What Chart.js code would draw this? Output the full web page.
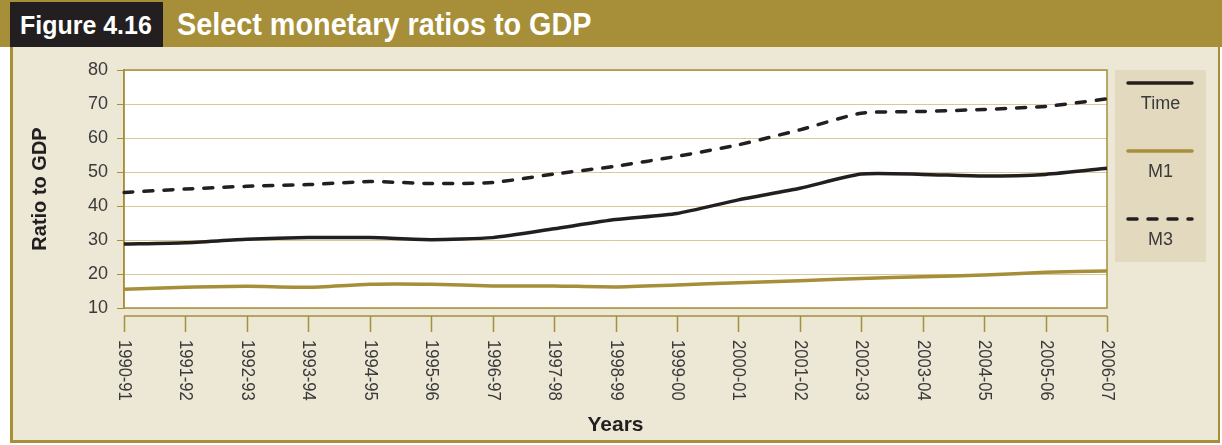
<!DOCTYPE html>
<html>
<head>
<meta charset="utf-8">
<script src="https://cdn.jsdelivr.net/npm/chart.js@4"></script>
<style>
  body { margin: 0; background: #fff; }
  #wrap { position: relative; width: 1222px; height: 445px; overflow: hidden; font-family: "Liberation Sans", Arial, sans-serif; }
  #band { position: absolute; left: 0; top: 0; width: 1222px; height: 47px; background: #a68f38; }
  #fig { position: absolute; left: 10px; top: 2px; width: 153px; height: 45px; background: #231f20; }
  #figText { position: absolute; left: 20px; top: 2px; height: 45px; line-height: 46px; color: #fff; font-weight: bold; font-size: 26px; transform: scaleX(0.96); transform-origin: left center; white-space: nowrap; }
  #title { position: absolute; left: 177px; top: 0; height: 47px; line-height: 49px; color: #fff; font-weight: bold; font-size: 32px; transform: scaleX(0.9); transform-origin: left center; white-space: nowrap; }
  #body { position: absolute; left: 10px; top: 47px; width: 1205px; height: 393px; background: #ede7d6; border-left: 3px solid #a68f38; border-right: 2px solid #a68f38; border-bottom: 3px solid #a68f38; }
  #chart { position: absolute; left: 0; top: 0; }
</style>
</head>
<body>
<div id="wrap">
  <div id="band"></div>
  <div id="fig"></div>
  <div id="figText">Figure 4.16</div>
  <div id="title">Select monetary ratios to GDP</div>
  <div id="body"></div>
  <canvas id="chart" width="1222" height="445"></canvas>
</div>
<script>
// DATA
const years = ["1990-91", "1991-92", "1992-93", "1993-94", "1994-95", "1995-96", "1996-97", "1997-98", "1998-99",
  "1999-00", "2000-01", "2001-02", "2002-03", "2003-04", "2004-05", "2005-06", "2006-07"];
const timeRatio = [28.8, 29.2, 30.2, 30.7, 30.7, 30.1, 30.7, 33.3, 36.0, 37.8, 41.8, 45.2, 49.4, 49.3, 48.8, 49.3, 51.1];
const m1Ratio = [15.5, 16.1, 16.4, 16.1, 17.0, 17.0, 16.5, 16.5, 16.2, 16.8, 17.4, 18.0, 18.7, 19.2, 19.7, 20.5, 20.9];
const m3Ratio = [44.0, 45.0, 45.8, 46.3, 47.2, 46.6, 46.9, 49.4, 51.7, 54.6, 58.0, 62.4, 67.3, 67.8, 68.4, 69.3, 71.5];
const yTicks = [10, 20, 30, 40, 50, 60, 70, 80];

const GOLD = "#a68f38";
const INK = "#231f20";
const TEXT = "#3a3a3a";
const FONT = "'Liberation Sans', Arial, sans-serif";

// white plot box with gold frame
const plotBox = {
  id: "plotBox",
  beforeDraw(chart) {
    const { ctx, chartArea: a } = chart;
    ctx.save();
    ctx.fillStyle = "#fff";
    ctx.fillRect(a.left, a.top, a.width, a.height);
    ctx.restore();
  },
  beforeDatasetsDraw(chart) {
    const { ctx, chartArea: a } = chart;
    ctx.save();
    ctx.strokeStyle = GOLD;
    ctx.lineWidth = 1.5;
    ctx.strokeRect(a.left, a.top, a.width, a.height);
    ctx.restore();
  }
};

// detached category axis with labels read top to bottom
const yearAxis = {
  id: "yearAxis",
  afterDraw(chart) {
    const { ctx } = chart;
    const xs = chart.scales.x;
    const y0 = chart.chartArea.bottom + 8;
    const first = xs.getPixelForTick(0);
    const last = xs.getPixelForTick(years.length - 1);
    ctx.save();
    ctx.strokeStyle = GOLD;
    ctx.lineWidth = 1.5;
    ctx.beginPath();
    ctx.moveTo(first, y0);
    ctx.lineTo(last, y0);
    years.forEach((_, i) => {
      const x = Math.round(xs.getPixelForTick(i)) + 0.5;
      ctx.moveTo(x, y0);
      ctx.lineTo(x, y0 + 16);
    });
    ctx.stroke();
    ctx.fillStyle = TEXT;
    ctx.font = "18px " + FONT;
    ctx.textAlign = "left";
    ctx.textBaseline = "middle";
    years.forEach((lab, i) => {
      ctx.save();
      ctx.translate(xs.getPixelForTick(i), y0 + 24);
      ctx.rotate(Math.PI / 2);
      ctx.scale(0.92, 1);
      ctx.fillText(lab, 0, 0);
      ctx.restore();
    });
    ctx.restore();
  }
};

// stacked legend: sample line above its label
const sideLegend = {
  id: "sideLegend",
  afterDraw(chart) {
    const { ctx } = chart;
    const left = 1115, top = 70, w = 91, h = 192;
    ctx.save();
    ctx.fillStyle = "#e3d9bf";
    ctx.fillRect(left, top, w, h);
    chart.data.datasets.forEach((ds, i) => {
      const ly = top + 13 + i * 68;
      ctx.strokeStyle = ds.borderColor;
      ctx.lineWidth = ds.borderWidth;
      ctx.lineCap = "round";
      ctx.setLineDash(ds.borderDash || []);
      ctx.beginPath();
      ctx.moveTo(left + 13, ly);
      ctx.lineTo(left + 77, ly);
      ctx.stroke();
      ctx.setLineDash([]);
      ctx.fillStyle = TEXT;
      ctx.font = "18px " + FONT;
      ctx.textAlign = "center";
      ctx.textBaseline = "middle";
      ctx.fillText(ds.label, left + w / 2, ly + 21);
    });
    ctx.restore();
  }
};

new Chart(document.getElementById("chart"), {
  type: "line",
  data: {
    labels: years,
    datasets: [
      { label: "Time", data: timeRatio, borderColor: INK, borderWidth: 3.5, pointRadius: 0, tension: 0.2 },
      { label: "M1", data: m1Ratio, borderColor: GOLD, borderWidth: 3.5, pointRadius: 0, tension: 0.2 },
      { label: "M3", data: m3Ratio, borderColor: INK, borderWidth: 3.5, borderDash: [9, 11], borderCapStyle: "round", pointRadius: 0, tension: 0.2 }
    ]
  },
  options: {
    responsive: false,
    animation: false,
    layout: { padding: { top: 70, right: 115, bottom: 0, left: 0 } },
    plugins: {
      legend: { display: false },
      tooltip: { enabled: false }
    },
    scales: {
      x: {
        offset: false,
        grid: { display: false },
        border: { display: false },
        ticks: { display: false },
        afterFit(scale) { scale.height = 137; },
        title: {
          display: true,
          text: "Years",
          color: INK,
          font: { family: FONT, size: 21, weight: "bold" },
          padding: { top: 0, bottom: 7 }
        }
      },
      y: {
        min: 10,
        max: 80,
        afterFit(scale) { scale.width = 124; },
        afterBuildTicks(scale) { scale.ticks = yTicks.map(v => ({ value: v })); },
        grid: { color: "#d9c99a", lineWidth: 1, tickLength: 7, tickColor: GOLD },
        border: { display: true, color: GOLD, width: 1.5 },
        ticks: { color: TEXT, padding: 9, font: { family: FONT, size: 18 } },
        title: {
          display: true,
          text: "Ratio to GDP",
          color: INK,
          font: { family: FONT, size: 20, weight: "bold" },
          padding: { top: 28, bottom: 0 }
        }
      }
    }
  },
  plugins: [plotBox, yearAxis, sideLegend]
});
</script>
</body>
</html>
